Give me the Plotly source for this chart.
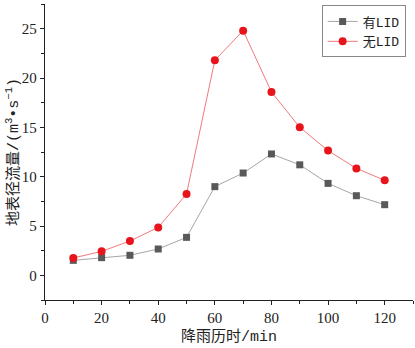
import plotly.graph_objects as go

time_min = [10, 20, 30, 40, 50, 60, 70, 80, 90, 100, 110, 120]
with_lid = [1.52, 1.79, 2.03, 2.67, 3.85, 8.99, 10.37, 12.3, 11.2, 9.32, 8.07, 7.16]
without_lid = [1.76, 2.43, 3.48, 4.86, 8.24, 21.8, 24.8, 18.58, 15.0, 12.64, 10.84, 9.63]
series_names = ["有LID", "无LID"]
x_title = "降雨历时/min"
y_title = "地表径流量/(m<sup>3</sup>•s<sup>−1</sup>)"

num_font = "Liberation Serif, Noto Sans CJK SC, serif"
txt_font = "Liberation Mono, Noto Sans CJK SC, monospace"

fig = go.Figure()
fig.add_trace(go.Scatter(
    x=time_min, y=with_lid, name=series_names[0], mode="lines+markers",
    line=dict(color="#a6a6a6", width=1),
    marker=dict(symbol="square", size=7, color="#595959"),
))
fig.add_trace(go.Scatter(
    x=time_min, y=without_lid, name=series_names[1], mode="lines+markers",
    line=dict(color="#f07a7a", width=1),
    marker=dict(symbol="circle", size=8, color="#e8141c"),
))

fig.update_layout(
    width=415, height=348,
    margin=dict(l=45, r=2, t=4, b=48, autoexpand=False),
    paper_bgcolor="white", plot_bgcolor="white",
    font=dict(family=num_font, size=15, color="#222"),
    showlegend=True,
    legend=dict(
        x=0.98, y=0.995, xanchor="right", yanchor="top",
        bgcolor="white", bordercolor="#888", borderwidth=1,
        font=dict(size=13, family=txt_font),
        tracegroupgap=0, itemwidth=30,
    ),
    annotations=[
        dict(text=x_title, xref="paper", yref="paper", x=0.5, y=-0.125,
             xanchor="center", yanchor="middle", showarrow=False,
             font=dict(size=15, family=txt_font)),
        dict(text=y_title, xref="paper", yref="paper", x=-0.087, y=0.5,
             xanchor="center", yanchor="middle", showarrow=False, textangle=-90,
             font=dict(size=15, family=txt_font)),
    ],
)
fig.update_xaxes(
    range=[0, 130], tickvals=[0, 20, 40, 60, 80, 100, 120],
    showline=True, linecolor="#222", linewidth=1.3, mirror=False,
    ticks="outside", ticklen=4, tickwidth=1, tickcolor="#222",
    minor=dict(tickvals=[10, 30, 50, 70, 90, 110, 130], ticks="outside", ticklen=2.5, tickcolor="#222", showgrid=False),
    showgrid=False, zeroline=False, automargin=False,
    tickfont=dict(size=15),
)
fig.update_yaxes(
    range=[-2.5, 27.5], tickvals=[0, 5, 10, 15, 20, 25],
    showline=True, linecolor="#222", linewidth=1.3, mirror=False,
    ticks="outside", ticklen=4, tickwidth=1, tickcolor="#222",
    minor=dict(tickvals=[-2.5, 2.5, 7.5, 12.5, 17.5, 22.5, 27.5], ticks="outside", ticklen=2.5, tickcolor="#222", showgrid=False),
    showgrid=False, zeroline=False, automargin=False,
    tickfont=dict(size=15),
)

fig.write_html("out.html", config={"displayModeBar": False},
               post_script="document.body.style.margin='0';")
